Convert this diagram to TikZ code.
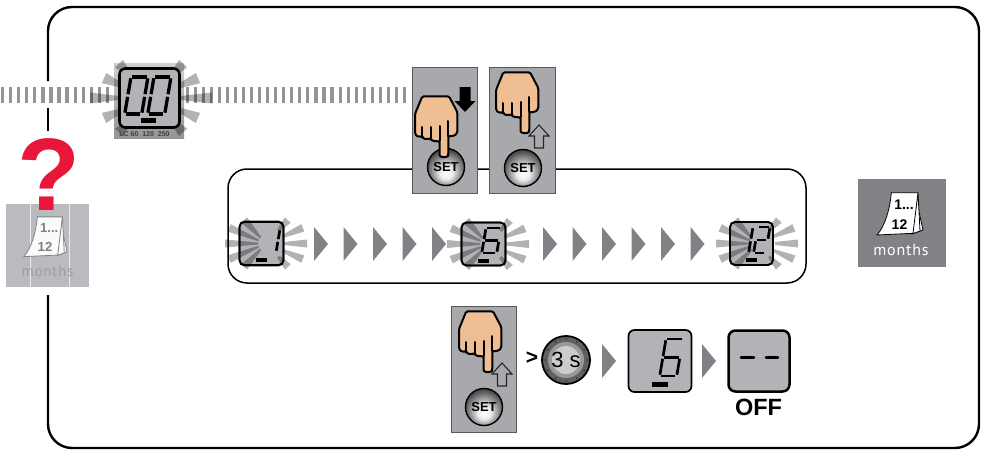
\documentclass[tikz,border=0pt]{standalone}
\usepackage{fontspec}
\setmainfont{Liberation Sans}
\newfontfamily\monthsfont[LetterSpace=5]{PT Sans}
\definecolor{panelgray}{HTML}{A7A9AC}
\definecolor{arrowgray}{HTML}{808285}
\definecolor{lcdgray}{HTML}{B1B3B6}
\definecolor{skin}{HTML}{EFBE92}
\definecolor{qred}{HTML}{E8173A}
\definecolor{fadepanel}{HTML}{B9BBBE}
\pgfdeclareradialshading{setbtn}{\pgfpoint{0bp}{-9bp}}{color(0bp)=(white); color(9bp)=(white!85!gray); color(19bp)=(gray!85); color(27bp)=(black!70); color(50bp)=(black!70)}
\tikzset{
  lcd/.style={draw=black,line width=1.7pt,fill=lcdgray,rounded corners=5pt,inner sep=0pt},
  panel/.style={draw=black!65,line width=.9pt,fill=panelgray},
  segm/.style={line width=2.7pt,line cap=butt,draw=black},
  bar/.style={fill=black},
  ray/.style={fill=black,opacity=.3},
  pointer/.style={fill=arrowgray},
  setnode/.style={circle,draw=black,line width=1.4pt,shading=setbtn,minimum size=37pt,inner sep=0pt,
     font=\bfseries\fontsize{13}{13}\selectfont},
  handline/.style={draw=black,line width=2pt,line join=round,line cap=round},
  tick/.style={draw=black!42,line width=3.1pt},
}
\newcommand{\segA}{\draw[segm] (\gp,0)--(\dw-\gp,0);}
\newcommand{\segB}{\draw[segm] (\dw,\gp)--(\dw,\dh/2-\gp);}
\newcommand{\segC}{\draw[segm] (\dw,\dh/2+\gp)--(\dw,\dh-\gp);}
\newcommand{\segD}{\draw[segm] (\gp,\dh)--(\dw-\gp,\dh);}
\newcommand{\segE}{\draw[segm] (0,\dh/2+\gp)--(0,\dh-\gp);}
\newcommand{\segF}{\draw[segm] (0,\gp)--(0,\dh/2-\gp);}
\newcommand{\segG}{\draw[segm] (\gp,\dh/2)--(\dw-\gp,\dh/2);}
% x (top-left), y, width, height, segments
\newcommand{\sevenseg}[5]{\begin{scope}[shift={(#1,#2)},xslant=.17]
  \def\dw{#3}\def\dh{#4}\def\gp{1.3}#5\end{scope}}
% centre x,y; lengths; start on the left, start on the right; half width
\newcommand{\rays}[8]{\begin{scope}[shift={(#1,#2)}]
  \foreach \ang/\len in {0/#3,23/#4,-23/#4,47/#5,-47/#5}{
    \fill[ray,rotate=\ang] (#7,-1.5) -- (\len,-#8) -- (\len,#8) -- (#7,1.5) -- cycle;}
  \foreach \ang/\len in {180/#3,157/#4,203/#4,133/#5,227/#5}{
    \fill[ray,rotate=\ang] (#6,-1) -- (\len,-#8) -- (\len,#8) -- (#6,1) -- cycle;}
  \end{scope}}
\newcommand{\handicon}[2]{\begin{scope}[shift={(#1,#2)}]
  \filldraw[handline,fill=skin,rounded corners=1.5pt] (-21.7,-60.7) -- (5,-60.7) -- (13.3,-45) -- (13.3,-24) -- (10,-21) -- (4.3,-21)
    -- (4.3,-3) .. controls (4,-.5) and (2,0) .. (0,0) .. controls (-3,0) and (-4.3,-1) .. (-4.3,-3)
    -- (-4.3,-16) -- (-8,-15.5) -- (-13.3,-17) -- (-13.3,-19) -- (-17,-17.6) -- (-21.7,-19) -- (-21.7,-21) -- (-26,-20) -- (-29,-23) -- (-29,-43) -- cycle;
  \draw[handline] (-21.7,-21) -- (-21.7,-30);
  \draw[handline] (-13.3,-19) -- (-13.3,-30);
  \draw[handline] (-4.3,-16) -- (-4.3,-31);
  \draw[handline] (4.3,-21) -- (4.3,-36);
  \end{scope}}
\newcommand{\uparrowicon}[2]{\begin{scope}[shift={(#1,#2)}]
  \filldraw[draw=black!85,fill=panelgray,line width=1.1pt,line join=miter] (0,0) -- (10,11) -- (4.5,11) -- (4.5,23) -- (-4.5,23) -- (-4.5,11) -- (-10,11) -- cycle;
  \end{scope}}
\newcommand{\calicon}[7]{\begin{scope}[shift={(#1,#2)},scale=#3,transform shape]
  \draw[draw=#5,line width=.8pt,fill=#4] (57,15) -- (65,51) -- (54,55) -- cycle;
  \draw[draw=#5,line width=.8pt,fill=#4] (60,14) -- (62,52) -- (54,55) -- cycle;
  \filldraw[draw=#5,line width=.8pt,fill=#4] (33.3,13.7) -- (60,13.7) -- (55,54.3) -- (19,56)
     .. controls (27,47) and (32,30) .. cycle;
  \node[font=\bfseries\fontsize{14}{14}\selectfont,text=#6,inner sep=0pt] (#7a) at (46,26) {1...};
  \node[font=\bfseries\fontsize{14}{14}\selectfont,text=#6,inner sep=0pt] (#7b) at (41.5,45.5) {12};
  \end{scope}}
\begin{document}
\begin{tikzpicture}[x=1pt,y=-1pt]
\useasboundingbox (0,0) rectangle (986,455);
% outer frame
\draw[line width=2.4pt,rounded corners=24pt] (48,81) -- (48,7) -- (979,7) -- (979,448) -- (48,448) -- (48,295);
\draw[line width=2.4pt] (48,108) -- (48,131);
% strip
\foreach \i in {0,...,50}{\draw[tick] ({2.8+8.03*\i},87) -- ({2.8+8.03*\i},103);}
% inner frame
\draw[draw=black,line width=1.5pt,rounded corners=19pt] (228,169) rectangle (806,283);
% 00 display
\fill[top color=black!18,bottom color=black!42] (114,63) rectangle (184,138);
\rays{151}{98}{61}{51}{47}{25}{25}{5.5}
\node[lcd,line width=2.6pt,rounded corners=6pt,minimum width=60pt,minimum height=59pt] (lcdA) at (149.5,98) {};
\begin{scope}[segm/.append style={line width=3.3pt}]
\sevenseg{131}{77}{17}{37}{\segA\segB\segC\segD\segE\segF}
\sevenseg{154}{77}{17}{37}{\segA\segB\segC\segD\segE\segF}
\end{scope}
\fill[bar] (141,118) rectangle (156,123);
\node[font=\bfseries\fontsize{7}{7}\selectfont,text=black!75,inner sep=0pt] (lcdAlabel) at (144.5,134) {LC 60\ \ 120\ \ 250};
% hand panels
\draw[panel] (412,67) rectangle (477,193);
\draw[panel] (489,67) rectangle (555,193);
\node[setnode] (setA) at (446,167) {SET};
\handicon{444}{157}
\fill[black] (465,112) -- (475.5,101) -- (470.5,101) -- (470.5,87) -- (459.5,87) -- (459.5,101) -- (454.5,101) -- cycle;
\node[setnode] (setB) at (523,168) {SET};
\handicon{525}{133}
\uparrowicon{539}{125}
% row of displays
\node[lcd,minimum width=44pt,minimum height=44pt] (lcdB) at (261.5,243.5) {};
\rays{266}{243.5}{41}{40}{32}{8}{18}{4}
\sevenseg{280}{229}{0}{23}{\segB\segC}
\fill[bar] (256,258) rectangle (267,262);
\node[lcd,minimum width=44pt,minimum height=43pt,fill=none] (lcdBb) at (261.5,243.5) {};
\node[lcd,minimum width=44pt,minimum height=43pt] (lcdC) at (483.5,244) {};
\rays{488}{244}{41}{40}{32}{8}{18}{4}
\sevenseg{486}{228}{15}{25}{\segA\segC\segD\segE\segF\segG}
\fill[bar] (478,259) rectangle (489,262.5);
\node[lcd,minimum width=44pt,minimum height=43pt,fill=none] (lcdCb) at (483.5,244) {};
\node[lcd,minimum width=43pt,minimum height=43pt] (lcdD) at (751.5,243.5) {};
\rays{757}{243.5}{41}{40}{32}{8}{18}{4}
\sevenseg{753}{227}{0}{26}{\segB\segC}
\sevenseg{758}{227}{12}{26}{\segA\segB\segG\segE\segD}
\fill[bar] (746,258) rectangle (757,262);
\node[lcd,minimum width=43pt,minimum height=43pt,fill=none] (lcdDb) at (751.5,243.5) {};
\foreach \x in {314,343.5,373,402.5,432,543,572.5,602,631.5,661,690.5}{
  \fill[pointer] (\x,227) -- (\x+14,244) -- (\x,261) -- cycle;}
% left months panel
\fill[fadepanel] (6,204) rectangle (89,287);
\draw[white!70!fadepanel,line width=.7pt] (30,204) -- (30,287) (69,204) -- (69,287);
\calicon{6}{204}{.94}{white!92!fadepanel}{fadepanel!70!black}{black!50}{calL}
\node[font=\monthsfont\fontsize{15}{15}\selectfont,text=black!38,inner sep=0pt] (monthsL) at (47.5,271) {months};
\node[font=\bfseries\fontsize{103}{103}\selectfont,text=qred,inner sep=0pt] (question) at (49,175) {?};
% right months panel
\fill[arrowgray] (858,179) rectangle (946,267);
\calicon{858}{179}{1}{white}{black}{black}{calR}
\node[font=\monthsfont\fontsize{16}{16}\selectfont,text=white,inner sep=0pt] (monthsR) at (901,250) {months};
% bottom row
\draw[panel] (451,306) rectangle (516,432);
\node[setnode] (setC) at (484,407) {SET};
\handicon{488}{372}
\uparrowicon{502}{363}
\node[font=\bfseries\fontsize{21}{21}\selectfont,inner sep=0pt] (gt) at (532,358) {>};
\draw[draw=black,line width=1.8pt,fill=black!62] (566,360) circle (24);
\fill[black!40] (566,360) circle (18);
\foreach \a in {0,30,...,330}{\fill[black!80] (566,360) ++(\a:21) circle (1);}
\fill[black!20] (566,360) circle (14);
\node[font=\fontsize{22}{22}\selectfont,inner sep=0pt] (timer) at (566,360) {3 s};
\fill[pointer] (602,344) -- (616,361) -- (602,378) -- cycle;
\node[lcd,minimum width=63pt,minimum height=62pt,rounded corners=6pt] (lcdE) at (660,361) {};
\sevenseg{666}{339}{17}{37}{\segA\segC\segD\segE\segF\segG}
\fill[bar] (652,382) rectangle (668,387);
\fill[pointer] (702,344) -- (716,361) -- (702,378) -- cycle;
\node[lcd,line width=2.5pt,minimum width=61pt,minimum height=61pt,rounded corners=7pt] (lcdF) at (759,361) {};
\draw[segm,line cap=round] (741,357.5) -- (754,357.5);
\draw[segm,line cap=round] (766,357.5) -- (778,357.5);
\node[font=\bfseries\fontsize{23.5}{23.5}\selectfont,inner sep=0pt] (off) at (758.5,407) {OFF};
\end{tikzpicture}
\end{document}
